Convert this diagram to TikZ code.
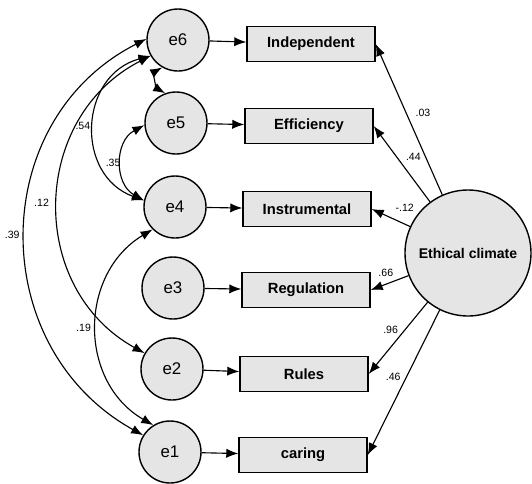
\documentclass[tikz,border=0pt]{standalone}
\usepackage{fontspec}
\setmainfont{Liberation Sans}
\usetikzlibrary{arrows.meta}
\colorlet{varfill}{black!10}

\begin{document}
\begin{tikzpicture}[x=0.25mm,y=-0.25mm,
    errvar/.style={circle,draw,line width=1pt,fill=varfill,minimum size=15.5mm,inner sep=0pt,font=\fontsize{12}{14}\selectfont},
    obsvar/.style={rectangle,draw,line width=1pt,fill=varfill,minimum width=32mm,minimum height=8.75mm,inner sep=0pt,font=\fontsize{10.5}{12}\selectfont\bfseries},
    latvar/.style={circle,draw,line width=1pt,fill=varfill,minimum size=31.5mm,inner sep=0pt,font=\fontsize{10}{12}\selectfont\bfseries},
    regarrow/.style={line width=0.8pt,-{Latex[length=3mm,width=2.3mm]}},
    cov/.style={line width=0.8pt,{Latex[length=3mm,width=2.3mm]}-{Latex[length=3mm,width=2.3mm]}},
    coef/.style={inner sep=0.5pt,font=\fontsize{7.5}{8}\selectfont}]
        \useasboundingbox (0,0) rectangle (532,483);
        % error terms
        \foreach \n/\x/\y in {6/178/40,5/176/123,4/175/207,3/173/288,2/172/369,1/170/452}{
            \node[errvar] (e\n) at (\x,\y) {e\n};
        }
        % observed variables
        \foreach \nm/\x/\y/\txt in {ind/311/44/Independent,eff/309/126/Efficiency,ins/307/209/Instrumental,
                                  reg/306/290/Regulation,rul/304/374/Rules,car/303/455/caring}{
            \node[obsvar] (\nm) at (\x,\y) {\txt};
        }
        \node[latvar] (ec) at (468,253) {Ethical climate};
        \foreach \n/\nm in {6/ind,5/eff,4/ins,3/reg,2/rul,1/car}{
            \draw[regarrow] (e\n) -- (\nm);
        }
        % loadings
        \draw[regarrow] (ec) -- node[coef,pos=0.54,right=2mm] {.03} (ind.east);
        \draw[regarrow] (ec) -- node[coef,pos=0.59,right=2mm] {.44} (eff.east);
        \draw[regarrow] (ec) -- node[coef,pos=0.14,above=2.8mm] {-.12} (ins.east);
        \draw[regarrow] (ec) -- node[coef,pos=0.6,above=1.7mm] {.66} (reg.east);
        \draw[regarrow] (ec) -- node[coef,pos=0.38,left=1.5mm] {.96} (rul.east);
        \draw[regarrow] (ec) -- node[coef,pos=0.46,left=1.2mm] {.46} (car.east);
        % covariances
        \draw[cov] (e5.110) to[out=150,in=210] (e6.240);
        \draw[cov] (e6.178) to[out=207,in=151,looseness=1.16] node[coef,left=1.2mm] {.39} (e1.148);
        \draw[cov] (e6.210) to[out=207,in=151,looseness=1.16] node[coef,left=2mm] {.12} (e2.150);
        \draw[cov] (e6.210) to[out=195,in=160,looseness=1.31] node[coef,left=0.7mm] {.54} (e4.168);
        \draw[cov] (e5.184) to[out=208,in=151,looseness=1.16] node[coef,left=0mm] {.35} (e4.168);
        \draw[cov] (e4.225) to[out=211,in=150,looseness=1.13] node[coef,left=1.2mm] {.19} (e1.122);
\end{tikzpicture}
\end{document}
